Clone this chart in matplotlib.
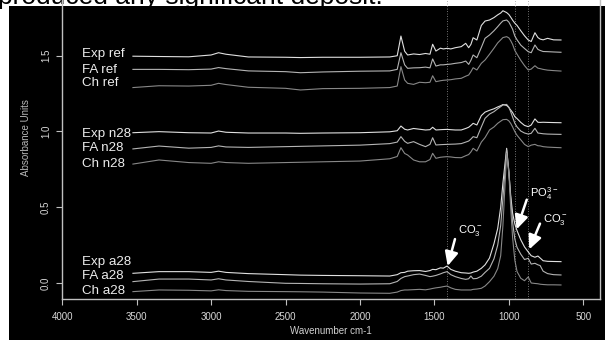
import matplotlib
matplotlib.use('Agg')
import matplotlib.pyplot as plt
from matplotlib.patches import Rectangle

plt.rcParams['font.family'] = ['Liberation Sans', 'DejaVu Sans']
plt.rcParams['mathtext.fontset'] = 'custom'
plt.rcParams['mathtext.rm'] = 'Liberation Sans'

# Wavenumbers (cm-1) shared by all spectra
wn = [3525, 3350, 3150, 3000, 2950, 2900, 2750, 2500, 2400, 2250,
      2000, 1800, 1750, 1725, 1700, 1680, 1640, 1600, 1560, 1530,
      1512, 1490, 1460, 1440, 1415, 1390, 1360, 1320, 1290, 1270,
      1255, 1240, 1215, 1185, 1160, 1130, 1100, 1075, 1055, 1040,
      1015, 1000, 988, 975, 960, 945, 920, 895, 870, 850,
      825, 805, 790, 770, 740, 700, 650]

# reference samples
exp_ref = [1.497, 1.495, 1.493, 1.505, 1.520, 1.510, 1.492, 1.490, 1.488, 1.490,
           1.490, 1.492, 1.500, 1.630, 1.530, 1.505, 1.512, 1.508, 1.515, 1.510,
           1.576, 1.531, 1.550, 1.545, 1.549, 1.545, 1.553, 1.560, 1.582, 1.553,
           1.575, 1.619, 1.604, 1.700, 1.729, 1.736, 1.752, 1.770, 1.782, 1.797,
           1.785, 1.772, 1.755, 1.735, 1.715, 1.700, 1.665, 1.632, 1.604, 1.594,
           1.652, 1.620, 1.610, 1.605, 1.615, 1.605, 1.604]
fa_ref = [1.410, 1.410, 1.408, 1.412, 1.422, 1.415, 1.400, 1.395, 1.388, 1.393,
          1.398, 1.400, 1.410, 1.520, 1.440, 1.417, 1.420, 1.421, 1.425, 1.420,
          1.479, 1.432, 1.440, 1.440, 1.443, 1.445, 1.450, 1.455, 1.465, 1.443,
          1.470, 1.505, 1.487, 1.555, 1.615, 1.637, 1.665, 1.692, 1.715, 1.730,
          1.736, 1.722, 1.700, 1.675, 1.630, 1.605, 1.570, 1.548, 1.527, 1.520,
          1.571, 1.542, 1.535, 1.528, 1.527, 1.525, 1.523]
ch_ref = [1.290, 1.302, 1.300, 1.305, 1.318, 1.310, 1.292, 1.285, 1.274, 1.283,
          1.285, 1.290, 1.300, 1.428, 1.340, 1.318, 1.311, 1.325, 1.322, 1.325,
          1.368, 1.329, 1.335, 1.338, 1.340, 1.342, 1.347, 1.351, 1.365, 1.373,
          1.395, 1.421, 1.406, 1.450, 1.472, 1.510, 1.550, 1.585, 1.605, 1.620,
          1.626, 1.618, 1.600, 1.575, 1.535, 1.510, 1.470, 1.435, 1.406, 1.412,
          1.434, 1.418, 1.415, 1.410, 1.405, 1.402, 1.399]

# n28 samples
exp_n28 = [0.992, 0.999, 0.992, 0.990, 1.003, 0.995, 0.990, 0.990, 0.988, 0.990,
           0.992, 0.998, 1.005, 1.036, 1.015, 1.010, 1.020, 1.015, 1.010, 1.012,
           1.028, 1.010, 1.012, 1.013, 1.014, 1.012, 1.010, 1.010, 1.020, 1.028,
           1.040, 1.054, 1.043, 1.105, 1.128, 1.140, 1.150, 1.162, 1.170, 1.178,
           1.172, 1.158, 1.142, 1.125, 1.098, 1.085, 1.060, 1.040, 1.032, 1.043,
           1.083, 1.061, 1.060, 1.061, 1.060, 1.059, 1.058]
fa_n28 = [0.885, 0.904, 0.890, 0.895, 0.905, 0.898, 0.895, 0.900, 0.902, 0.905,
          0.910, 0.920, 0.930, 0.966, 0.935, 0.922, 0.933, 0.915, 0.900, 0.915,
          0.959, 0.911, 0.913, 0.914, 0.915, 0.916, 0.917, 0.920, 0.930, 0.937,
          0.950, 0.966, 0.959, 1.030, 1.087, 1.115, 1.131, 1.150, 1.164, 1.175,
          1.179, 1.160, 1.131, 1.095, 1.054, 1.030, 1.003, 0.990, 0.983, 0.988,
          1.021, 0.990, 0.988, 0.985, 0.983, 0.982, 0.981]
ch_n28 = [0.785, 0.812, 0.795, 0.790, 0.800, 0.795, 0.790, 0.795, 0.797, 0.800,
          0.805, 0.820, 0.835, 0.893, 0.855, 0.845, 0.812, 0.800, 0.800, 0.815,
          0.856, 0.823, 0.830, 0.832, 0.834, 0.832, 0.828, 0.827, 0.840, 0.848,
          0.865, 0.889, 0.871, 0.930, 0.960, 1.010, 1.030, 1.054, 1.068, 1.078,
          1.080, 1.070, 1.054, 1.030, 0.999, 0.975, 0.945, 0.915, 0.900, 0.910,
          0.915, 0.906, 0.905, 0.900, 0.897, 0.895, 0.893]

# a28 samples
exp_a28 = [0.064, 0.075, 0.075, 0.070, 0.078, 0.070, 0.062, 0.055, 0.052, 0.050,
           0.048, 0.046, 0.055, 0.068, 0.070, 0.078, 0.081, 0.082, 0.076, 0.082,
           0.090, 0.088, 0.100, 0.098, 0.112, 0.090, 0.078, 0.068, 0.066, 0.064,
           0.066, 0.072, 0.078, 0.097, 0.120, 0.165, 0.260, 0.360, 0.500, 0.660,
           0.889, 0.730, 0.580, 0.460, 0.390, 0.345, 0.285, 0.238, 0.205, 0.180,
           0.170, 0.178, 0.165, 0.147, 0.143, 0.142, 0.141]
fa_a28 = [0.009, 0.026, 0.026, 0.020, 0.028, 0.020, 0.010, -0.002, -0.003, -0.005,
          -0.007, -0.005, 0.010, 0.030, 0.042, 0.046, 0.055, 0.059, 0.050, 0.042,
          0.045, 0.050, 0.060, 0.068, 0.075, 0.055, 0.042, 0.030, 0.024, 0.028,
          0.046, 0.028, 0.030, 0.045, 0.070, 0.097, 0.160, 0.250, 0.380, 0.560,
          0.878, 0.740, 0.560, 0.400, 0.290, 0.235, 0.190, 0.155, 0.163, 0.125,
          0.130, 0.120, 0.115, 0.078, 0.062, 0.055, 0.053]
ch_a28 = [-0.057, -0.046, -0.048, -0.052, -0.045, -0.050, -0.055, -0.057, -0.058, -0.060,
          -0.066, -0.068, -0.060, -0.050, -0.046, -0.046, -0.044, -0.042, -0.045, -0.040,
          -0.036, -0.032, -0.028, -0.024, -0.020, -0.032, -0.042, -0.046, -0.046, -0.046,
          -0.046, -0.042, -0.040, -0.035, -0.020, 0.009, 0.045, 0.095, 0.180, 0.380,
          0.856, 0.720, 0.500, 0.300, 0.150, 0.075, 0.031, 0.015, 0.040, 0.000,
          -0.003, -0.005, -0.008, -0.010, -0.012, -0.012, -0.013]

series = [exp_ref, fa_ref, ch_ref, exp_n28, fa_n28, ch_n28, exp_a28, fa_a28, ch_a28]
names = ['Exp ref', 'FA ref', 'Ch ref', 'Exp n28', 'FA n28', 'Ch n28',
         'Exp a28', 'FA a28', 'Ch a28']
label_y = [1.512, 1.406, 1.320, 0.984, 0.891, 0.785, 0.141, 0.043, -0.053]
shades = ['#e0e0e0', '#b4b4b4', '#888888'] * 3

marker_lines = [1415, 962, 870]
xticks = [4000, 3500, 3000, 2500, 2000, 1500, 1000, 500]
yticks = [0.0, 0.5, 1.0, 1.5]

fig = plt.figure(figsize=(6.05, 3.4), dpi=100, facecolor='white')
# cropped caption text above the black panel
fig.text(-0.004, 0.9897, 'produced any significant deposit.', fontsize=19,
         color='black', ha='left', va='baseline', zorder=-2)
fig.add_artist(Rectangle((9 / 605, 0), 1, 334 / 340, transform=fig.transFigure,
                         facecolor='black', edgecolor='none', zorder=-1))

ax = fig.add_axes([62.2 / 605, (340 - 299.3) / 340, (600 - 62.2) / 605, (299.3 + 20) / 340])
ax.set_facecolor('none')
ax.set_xlim(4000, 388)
ax.set_ylim(-0.1076, 2.0)

for w in marker_lines:
    ax.axvline(w, color='#9a9a9a', lw=0.6, ls=(0, (1, 2)))

for vals, name, ly, c in zip(series, names, label_y, shades):
    ax.plot(wn, vals, color=c, lw=0.8)
    ax.text(3870, ly, name, color='#ececec', fontsize=9.6, ha='left', va='center')

# band annotations
arrow = dict(arrowstyle='-|>,head_length=0.7,head_width=0.33', color='white',
             lw=1.8, mutation_scale=12, shrinkA=0, shrinkB=0)
ax.annotate('', xy=(1411, 0.112), xytext=(1362, 0.290), arrowprops=arrow)
ax.annotate('', xy=(948, 0.354), xytext=(880, 0.550), arrowprops=arrow)
ax.annotate('', xy=(863, 0.222), xytext=(791, 0.392), arrowprops=arrow)
ax.text(1344, 0.345, r'CO$_3^-$', color='white', fontsize=8, ha='left', va='center')
ax.text(858, 0.587, r'PO$_4^{3-}$', color='white', fontsize=8, ha='left', va='center')
ax.text(773, 0.422, r'CO$_3^-$', color='white', fontsize=8, ha='left', va='center')

ax.set_xticks(xticks)
ax.set_xticklabels([str(t) for t in xticks])
ax.set_yticks(yticks)
ax.set_yticklabels(['%.1f' % t for t in yticks])
plt.setp(ax.get_yticklabels(), rotation=90, va='center')

for s in ['left', 'bottom', 'right']:
    ax.spines[s].set_color('#c0c0c0')
    ax.spines[s].set_linewidth(1.0)
ax.spines['top'].set_visible(False)
ax.tick_params(colors='#c0c0c0', labelcolor='#d8d8d8', labelsize=7,
               length=4, width=0.8, direction='out')
ax.tick_params(axis='x', pad=5)
ax.tick_params(axis='y', pad=4)

ax.set_xlabel('Wavenumber cm-1', color='#d0d0d0', fontsize=7)
ax.xaxis.set_label_coords(0.5, -0.085)
ax.set_ylabel('Absorbance Units', color='#b8b8b8', fontsize=7)
ax.yaxis.set_label_coords(-0.058, 0.505)

fig.savefig('out.png', dpi=100, facecolor=fig.get_facecolor())
